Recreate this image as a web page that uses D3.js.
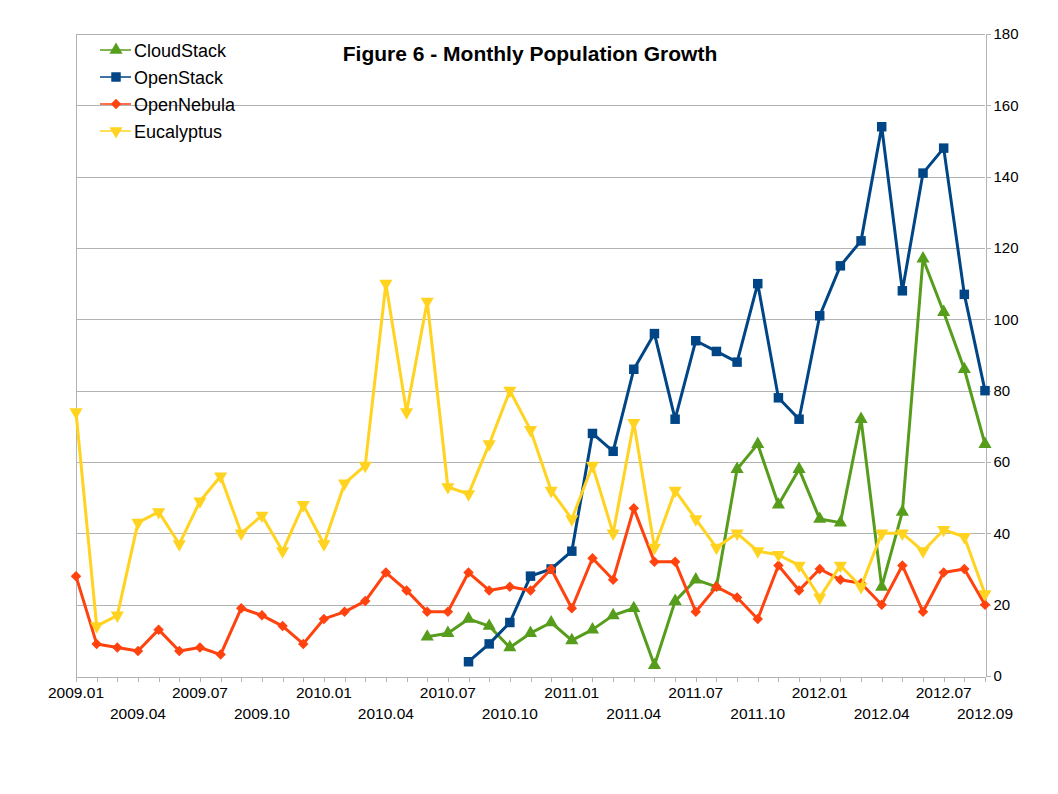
<!DOCTYPE html>
<html lang="en">
    <head>
        <meta charset="utf-8">
        <title>Monthly Population Growth</title>
        <script src="https://d3js.org/d3.v7.min.js"></script>
        <style media="screen">
        body { margin: 0; background: #fff; }
        .axis path, .axis line {
          fill: none;
          stroke: #b3b3b3;
          shape-rendering: crispEdges;
        }
        .axis text {
          font-family: "Liberation Sans", Arial, sans-serif;
          font-size: 15px;
          fill: #000;
        }
        .grid line {
          stroke: #b3b3b3;
          shape-rendering: crispEdges;
        }
        </style>
    </head>
    <body>
        <script type="text/javascript">
        'use strict'
        // months 2009.01 .. 2012.09
        let months = []
        for (let y = 2009; y <= 2012; y++) {
          for (let m = 1; m <= 12; m++) {
            if (y === 2012 && m > 9) break
            months.push(y + '.' + String(m).padStart(2, '0'))
          }
        }
        let tickLabels = ['2009.01', '2009.04', '2009.07', '2009.10', '2010.01', '2010.04',
          '2010.07', '2010.10', '2011.01', '2011.04', '2011.07', '2011.10',
          '2012.01', '2012.04', '2012.07', '2012.09']
        let yTicks = [0, 20, 40, 60, 80, 100, 120, 140, 160, 180]

        // CloudStack starts 2010.06, OpenStack starts 2010.08
        let cloudStart = '2010.06'
        let cloudStack = [11, 12, 16, 14, 8, 12, 15,
          10, 13, 17, 19, 3, 21, 27, 25, 58, 65, 48, 58,
          44, 43, 72, 25, 46, 117, 102, 86, 65]
        let openStart = '2010.08'
        let openStack = [4, 9, 15, 28, 30,
          35, 68, 63, 86, 96, 72, 94, 91, 88, 110, 78, 72,
          101, 115, 122, 154, 108, 141, 148, 107, 80]
        let openNebula = [28, 9, 8, 7, 13, 7, 8, 6, 19, 17, 14, 9,
          16, 18, 21, 29, 24, 18, 18, 29, 24, 25, 24, 30,
          19, 33, 27, 47, 32, 32, 18, 25, 22, 16, 31, 24,
          30, 27, 26, 20, 31, 18, 29, 30, 20]
        let eucalyptus = [74, 14, 17, 43, 46, 37, 49, 56, 40, 45, 35, 48,
          37, 54, 59, 110, 74, 105, 53, 51, 65, 80, 69, 52,
          44, 59, 40, 71, 36, 52, 44, 36, 40, 35, 34, 31,
          22, 31, 25, 40, 40, 35, 41, 39, 23]

        let toPoints = (start, vals) => {
          let i0 = months.indexOf(start)
          return vals.map((v, i) => [months[i0 + i], v])
        }

        let series = [
          { name: 'CloudStack', color: '#579d1c', sym: d3.symbolTriangle, size: 75, rot: 0, data: toPoints(cloudStart, cloudStack) },
          { name: 'OpenStack', color: '#004586', sym: d3.symbolSquare, size: 90, rot: 0, data: toPoints(openStart, openStack) },
          { name: 'OpenNebula', color: '#ff420e', sym: d3.symbolSquare, size: 55, rot: 45, data: toPoints('2009.01', openNebula) },
          { name: 'Eucalyptus', color: '#ffd320', sym: d3.symbolTriangle, size: 75, rot: 180, data: toPoints('2009.01', eucalyptus) }
        ]

        let w = 1058
        let h = 794
        let plotL = 76, plotR = 985, plotT = 34, plotB = 676

        let xScale = d3.scalePoint()
          .domain(months)
          .range([plotL, plotR])
        let yScale = d3.scaleLinear()
          .domain([0, 180])
          .range([plotB, plotT])

        let svg = d3.select("body")
          .append("svg")
          .attr("width", w)
          .attr("height", h)

        // gridlines
        svg.append("g")
          .attr("class", "grid")
          .selectAll("line")
          .data(yTicks.slice(1))
          .enter()
          .append("line")
          .attr("x1", plotL)
          .attr("x2", plotR)
          .attr("y1", (d) => Math.round(yScale(d)) + 0.5)
          .attr("y2", (d) => Math.round(yScale(d)) + 0.5)

        // left border line
        svg.append("line")
          .attr("x1", plotL + 0.5).attr("x2", plotL + 0.5)
          .attr("y1", plotT).attr("y2", plotB + 5)
          .attr("stroke", "#b3b3b3")
          .attr("shape-rendering", "crispEdges")

        // x axis with month ticks
        let xAxis = svg.append("g")
          .attr("class", "axis")
          .attr("transform", "translate(0," + (plotB + 0.5) + ")")
          .call(d3.axisBottom(xScale).tickSize(5).tickSizeOuter(0).tickFormat(''))
        xAxis.selectAll(".tick text").remove()

        svg.append("g")
          .selectAll("text")
          .data(tickLabels)
          .enter()
          .append("text")
          .attr("x", (d) => xScale(d))
          .attr("y", (d, i) => i % 2 === 0 ? 698 : 719)
          .attr("text-anchor", "middle")
          .attr("font-family", '"Liberation Sans", Arial, sans-serif')
          .attr("font-size", "15.5px")
          .text((d) => d)

        // right y axis
        svg.append("g")
          .attr("class", "axis")
          .attr("transform", "translate(" + (plotR + 0.5) + ",0)")
          .call(d3.axisRight(yScale).tickValues(yTicks).tickSize(5).tickPadding(3).tickSizeOuter(0))

        // series
        let line = d3.line()
          .x((d) => xScale(d[0]))
          .y((d) => yScale(d[1]))

        series.forEach((s) => {
          svg.append("path")
            .datum(s.data)
            .attr("fill", "none")
            .attr("stroke", s.color)
            .attr("stroke-width", 3)
            .attr("stroke-linejoin", "round")
            .attr("d", line)
          svg.append("g")
            .selectAll("path")
            .data(s.data)
            .enter()
            .append("path")
            .attr("d", d3.symbol().type(s.sym).size(s.size))
            .attr("fill", s.color)
            .attr("transform", (d) => "translate(" + xScale(d[0]) + "," + yScale(d[1]) + ") rotate(" + s.rot + ")")
        })

        // legend
        let legend = svg.append("g")
          .selectAll("g")
          .data(series)
          .enter()
          .append("g")
          .attr("transform", (d, i) => "translate(0," + (50 + i * 27) + ")")
        legend.append("line")
          .attr("x1", 100).attr("x2", 131)
          .attr("stroke", (d) => d.color)
          .attr("stroke-width", 1.5)
        legend.append("path")
          .attr("d", (d) => d3.symbol().type(d.sym).size(d.size)())
          .attr("fill", (d) => d.color)
          .attr("transform", (d) => "translate(116,0) rotate(" + d.rot + ")")
        legend.append("text")
          .attr("x", 134)
          .attr("y", 6.5)
          .attr("font-family", '"Liberation Sans", Arial, sans-serif')
          .attr("font-size", "18px")
          .text((d) => d.name)

        // title
        svg.append("text")
          .attr("x", 530)
          .attr("y", 61)
          .attr("text-anchor", "middle")
          .attr("font-family", '"Liberation Sans", Arial, sans-serif')
          .attr("font-size", "21px")
          .attr("font-weight", "bold")
          .text("Figure 6 - Monthly Population Growth")
        </script>
    </body>
</html>
